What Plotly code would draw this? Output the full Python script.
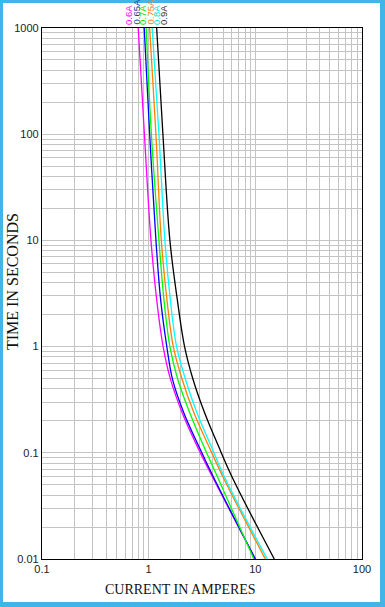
import plotly.graph_objects as go

# Time values (seconds) at which curves were sampled
times = [1000, 100, 10, 2.78, 1.0, 0.488, 0.237, 0.115, 0.0557, 0.01]

# Current (A) for each fuse rating
i_060 = [0.798, 0.912, 1.051, 1.188, 1.366, 1.606, 2.065, 2.852, 4.094, 10.0]
i_065 = [0.908, 1.022, 1.170, 1.294, 1.479, 1.676, 2.138, 2.951, 4.165, 10.0]
i_070 = [0.948, 1.060, 1.248, 1.390, 1.581, 1.878, 2.432, 3.285, 4.540, 9.68]
i_075 = [1.022, 1.170, 1.314, 1.482, 1.701, 2.065, 2.662, 3.662, 5.130, 12.4]
i_080 = [1.078, 1.248, 1.420, 1.595, 1.827, 2.218, 2.840, 3.855, 5.280, 12.94]
i_090 = [1.188, 1.360, 1.581, 1.854, 2.170, 2.611, 3.351, 4.520, 6.230, 15.05]

labels = ["0.6A", "0.65A", "0.7A", "0.75A", "0.8A", "0.9A"]
colors = ["#ff00ff", "#0000ff", "#00ff00", "#ff8000", "#00ffff", "#000000"]
label_colors = ["#ff00ff", "#2040a0", "#00e000", "#ff8000", "#00e0e0", "#333333"]
series = [i_060, i_065, i_070, i_075, i_080, i_090]

x_major = [0.1, 1, 10, 100]
x_major_text = ["0.1", "1", "10", "100"]
y_major = [0.01, 0.1, 1, 10, 100, 1000]
y_major_text = ["0.01", "0.1", "1", "10", "100", "1000"]
x_minor = [m * d for d in [0.1, 1, 10] for m in range(2, 10)]
y_minor = [m * d for d in [0.01, 0.1, 1, 10, 100] for m in range(2, 10)]

W, H = 385, 607
L, R, T, B = 42, 23, 28, 48
PW, PH = W - L - R, H - T - B

fig = go.Figure()
for s, c, n in zip(series, colors, labels):
    fig.add_trace(go.Scatter(x=s, y=times, mode="lines", name=n,
                             line=dict(color=c, width=1.3, shape="spline", smoothing=1.0),
                             hoverinfo="skip"))

def px_x(px):
    return (px - L) / PW

def px_y(py):
    return (H - B - py) / PH

annotations = []
label_px = [129, 136, 143, 150, 157, 164]
for lab, lc, p in zip(labels, label_colors, label_px):
    annotations.append(dict(text=lab, x=px_x(p), y=1.0, xref="paper", yref="paper",
                            xanchor="center", yanchor="bottom", yshift=1,
                            textangle=-90, showarrow=False,
                            font=dict(family="Liberation Sans, Arial", size=9.5, color=lc)))
annotations.append(dict(text="CURRENT IN AMPERES", x=px_x(180), y=px_y(589),
                        xref="paper", yref="paper", xanchor="center", yanchor="middle",
                        showarrow=False,
                        font=dict(family="Liberation Serif, Times New Roman", size=14, color="#111")))
annotations.append(dict(text="TIME IN SECONDS", x=px_x(12), y=px_y(282),
                        xref="paper", yref="paper", xanchor="center", yanchor="middle",
                        textangle=-90, showarrow=False,
                        font=dict(family="Liberation Serif, Times New Roman", size=16, color="#111")))

border = "#41b6e6"
def rect(x0, y0, x1, y1):
    return dict(type="rect", xref="paper", yref="paper", x0=px_x(x0), x1=px_x(x1),
                y0=px_y(y0), y1=px_y(y1), fillcolor=border, line=dict(width=0), layer="above")

shapes = [rect(0, 0, W, 3), rect(0, H - 5, W, H), rect(0, 0, 3, H), rect(W - 5, 0, W, H)]

grid_c = "#c4c4c4"
fig.update_layout(
    width=W, height=H,
    margin=dict(l=L, r=R, t=T, b=B),
    paper_bgcolor="white", plot_bgcolor="white",
    showlegend=False,
    annotations=annotations, shapes=shapes,
    xaxis=dict(type="log", range=[-1, 2], tickvals=x_major, ticktext=x_major_text,
               showgrid=True, gridcolor=grid_c, gridwidth=1,
               minor=dict(tickvals=x_minor, showgrid=True, gridcolor=grid_c, gridwidth=1, ticks=""),
               showline=True, linecolor="black", linewidth=1.3, mirror=True,
               ticks="", tickfont=dict(family="Liberation Sans, Arial", size=11, color="#222"),
               zeroline=False),
    yaxis=dict(type="log", range=[-2, 3], tickvals=y_major, ticktext=y_major_text,
               showgrid=True, gridcolor=grid_c, gridwidth=1,
               minor=dict(tickvals=y_minor, showgrid=True, gridcolor=grid_c, gridwidth=1, ticks=""),
               showline=True, linecolor="black", linewidth=1.3, mirror=True,
               ticks="", tickfont=dict(family="Liberation Sans, Arial", size=11, color="#222"),
               zeroline=False),
)

fig.write_html("out.html", config={"displayModeBar": False},
               post_script="document.body.style.margin='0';")
